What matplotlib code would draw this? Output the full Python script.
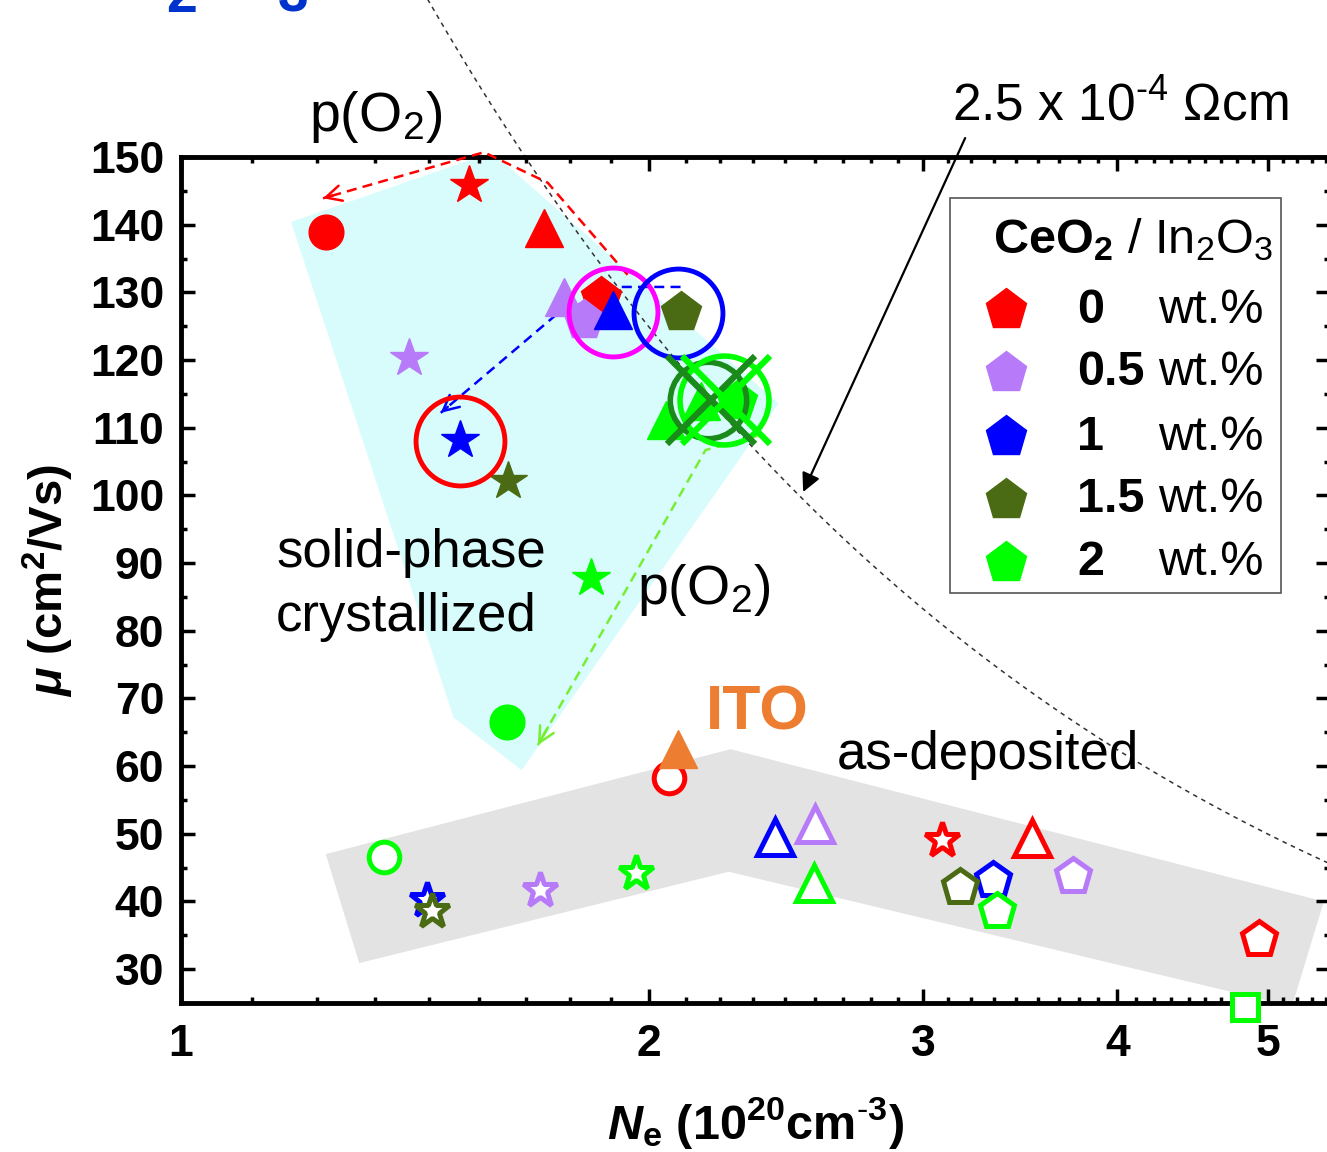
import matplotlib.pyplot as plt
from matplotlib.patches import Polygon, Rectangle
from matplotlib.ticker import FixedLocator, MultipleLocator, NullFormatter
import numpy as np

plt.rcParams['font.family'] = 'Liberation Sans'
plt.rcParams['mathtext.fontset'] = 'custom'
plt.rcParams['mathtext.rm'] = 'Liberation Sans'
plt.rcParams['mathtext.it'] = 'Liberation Sans:italic:bold'
plt.rcParams['mathtext.bf'] = 'Liberation Sans:bold'
plt.rcParams['mathtext.default'] = 'rm'

# CeO2 content of the In2O3 targets and their colours
conc = ['0', '0.5', '1', '1.5', '2']
colors = ['#ff0000', '#b77bf9', '#0000ff', '#4a6b14', '#00ff00']

# solid-phase crystallized films (filled symbols), Ne in 1e20 cm^-3, mu in cm2/Vs
spc_ne = [[1.239, 1.531, 1.711, 1.861],
          [1.401, 1.762, 1.815],
          [1.511, 1.897],
          [2.095, 1.622],
          [1.836, 1.620, 2.051, 2.158, 2.279]]
spc_mu = [[138.9, 145.9, 139.5, 129.3],
          [120.3, 129.3, 125.9],
          [108.2, 127.4],
          [127.1, 102.1],
          [87.8, 66.5, 111.1, 114.0, 114.0]]
spc_mk = [['o', '*', '^', 'p'],
          ['*', '^', 'p'],
          ['*', '^'],
          ['p', '*'],
          ['*', 'o', '^', '^', 'p']]

# as-deposited films (open symbols)
ad_ne = [[2.059, 3.087, 3.525, 4.936],
         [1.701, 2.557, 3.746],
         [1.440, 2.408, 3.327],
         [1.451, 3.167],
         [1.351, 1.960, 2.551, 3.348, 4.831]]
ad_mu = [[58.3, 49.1, 49.4, 34.5],
         [41.7, 51.5, 43.7],
         [40.2, 49.5, 43.2],
         [38.6, 42.2],
         [46.6, 44.2, 42.7, 38.6, 24.4]]
ad_mk = [['o', '*', '^', 'p'],
         ['*', '^', 'p'],
         ['*', '^', 'p'],
         ['*', 'p'],
         ['o', '*', '^', 'p', 's']]

# ITO reference
ito_ne = [2.088]
ito_mu = [62.6]

# highlighted points (rings) and crossed-out points
ring_ne = [1.897, 2.086, 1.511]
ring_mu = [127.1, 126.9, 108.0]
ring_col = ['#ff00ff', '#0000ff', '#ff0000']
cross_ne = [2.181, 2.233]
cross_x_ne = [2.192, 2.240]
cross_mu = [114.1, 114.1]
cross_col = ['#1a8a1a', '#00ff00']

# shaded regions
spc_reg_ne = [1.177, 1.536, 1.605, 2.422, 1.656, 1.497]
spc_reg_mu = [140.4, 149.6, 149.6, 113.6, 59.4, 67.2]
ad_reg_ne = [1.239, 2.256, 5.43, 5.18, 2.250, 1.302]
ad_reg_mu = [47.0, 62.5, 40.0, 24.5, 44.4, 30.9]

# p(O2) arrows
arrows = [([1.937, 1.721, 1.566, 1.234], [132.6, 146.2, 150.7, 143.9], '#ff0000'),
          ([2.095, 1.917, 1.747, 1.469], [130.8, 130.8, 126.9, 112.2], '#0000ff'),
          ([2.348, 2.174, 1.696], [108.8, 106.7, 63.1], '#77ee33')]

# constant resistivity line
rho = 2.5e-4
q = 1.602e-19

fig = plt.figure(figsize=(13.27, 11.52), dpi=100)
ax = fig.add_axes([181 / 1327, 1 - 1003 / 1152, 1149 / 1327, 846 / 1152])
ax.set_xscale('log')
ax.set_xlim(1, 5.48)
ax.set_ylim(25, 150)

ax.add_patch(Polygon(np.column_stack([spc_reg_ne, spc_reg_mu]), closed=True,
                     facecolor='#d8fcfc', edgecolor='none', zorder=0.5))
ax.add_patch(Polygon(np.column_stack([ad_reg_ne, ad_reg_mu]), closed=True,
                     facecolor='#e3e3e3', edgecolor='none', zorder=0.5))

ne_line = np.geomspace(1.44, 5.6, 200)
mu_line = 1 / (q * ne_line * 1e20 * rho)
ax.plot(ne_line, mu_line, color='#333333', lw=1.1, ls=(0, (3, 3)), clip_on=False, zorder=2)

for xs, ys, c in arrows:
    ax.plot(xs, ys, color=c, lw=1.8, ls=(0, (4, 2.5)), clip_on=False, zorder=3)
    lx = np.log10(xs)
    xt = 10 ** (lx[-1] + 0.06 * (lx[-2] - lx[-1]))
    yt = ys[-1] + 0.06 * (ys[-2] - ys[-1])
    ax.annotate('', xy=(xs[-1], ys[-1]), xytext=(xt, yt), annotation_clip=False,
                arrowprops=dict(arrowstyle='->', color=c, lw=1.8, mutation_scale=28,
                                shrinkA=0, shrinkB=0), zorder=3)

msize = {'o': 25, '*': 29, '^': 28, 'p': 30, 's': 19}
osize = {'o': 22, '*': 26, '^': 26, 'p': 26, 's': 19}

for i, c in enumerate(colors):
    for x, y, m in zip(ad_ne[i], ad_mu[i], ad_mk[i]):
        ax.plot([x], [y], marker=m, ms=osize[m], mfc='white', mec=c, mew=3.6,
                ls='none', clip_on=False, zorder=4)
for i, c in enumerate(colors):
    for x, y, m in zip(spc_ne[i], spc_mu[i], spc_mk[i]):
        ax.plot([x], [y], marker=m, ms=msize[m], color=c, mec=c, mew=1,
                ls='none', zorder=4)

ax.plot(ito_ne, ito_mu, marker='^', ms=28, color='#ed7d31', ls='none', zorder=4)

for x, y, c in zip(ring_ne, ring_mu, ring_col):
    ax.plot([x], [y], marker='o', ms=64, mfc='none', mec=c, mew=3.5, ls='none', zorder=5)
for x, y, c, s in zip(cross_ne, cross_mu, cross_col, [55, 64]):
    ax.plot([x], [y], marker='o', ms=s, mfc='none', mec=c, mew=4, ls='none', zorder=5)
for xx, y, c in zip(cross_x_ne, cross_mu, cross_col):
    ax.plot([xx], [y], marker='x', ms=64, mec=c, mew=4.5, ls='none', zorder=6)

# resistivity label and arrow
ax.annotate('', xy=(2.512, 100.5), xytext=(3.193, 152.8), annotation_clip=False,
            arrowprops=dict(arrowstyle='-|>', color='black', lw=1.6, mutation_scale=28,
                            shrinkA=0, shrinkB=0), zorder=6)
ax.text(3.132, 157.4, r'2.5 x 10$^{\text{-}4}$ Ωcm', fontsize=37, va='center', ha='left')

ax.text(1.334, 155.9, r'p(O$_2$)', fontsize=40, va='center', ha='center')
ax.text(2.168, 86.0, r'p(O$_2$)', fontsize=40, va='center', ha='center')
ax.text(1.151, 91.5, 'solid-phase', fontsize=38, va='center', ha='left')
ax.text(1.151, 82.0, 'crystallized', fontsize=38, va='center', ha='left')
ax.text(2.642, 61.6, 'as-deposited', fontsize=38, va='center', ha='left', zorder=6)
ax.text(2.174, 67.8, 'ITO', fontsize=45, fontweight='bold', color='#ed7d31',
        va='center', ha='left')

# legend drawn by hand
ax.add_patch(Rectangle((0.6693, 0.4846), 0.2881, 0.4669, transform=ax.transAxes,
                       facecolor='white', edgecolor='#555555', lw=1.2, zorder=20))
ax.text(0.7067, 0.9019, r'$\mathbf{CeO_2}$ / In$_2$O$_3$', transform=ax.transAxes,
        fontsize=35, va='center', ha='left', zorder=21)
rows_y = [0.8191, 0.7447, 0.6690, 0.5946, 0.5201]
for c, lab, ry in zip(colors, conc, rows_y):
    ax.plot([0.718], [ry], marker='p', ms=31, color=c, ls='none',
            transform=ax.transAxes, clip_on=False, zorder=21)
    ax.text(0.780, ry, lab, transform=ax.transAxes, fontsize=35, fontweight='bold',
            va='center', ha='left', zorder=21)
    ax.text(0.850, ry, 'wt.%', transform=ax.transAxes, fontsize=35,
            va='center', ha='left', zorder=21)

# axes and ticks
ax.xaxis.set_major_locator(FixedLocator([1, 2, 3, 4, 5]))
ax.set_xticklabels(['1', '2', '3', '4', '5'])
minor_x = [n + k / 9 for n in range(1, 6) for k in range(1, 9)]
ax.xaxis.set_minor_locator(FixedLocator(minor_x))
ax.xaxis.set_minor_formatter(NullFormatter())
ax.yaxis.set_major_locator(FixedLocator(list(range(30, 151, 10))))
ax.yaxis.set_minor_locator(MultipleLocator(5))

ax.tick_params(which='both', direction='in', top=True, right=True, width=2.5,
               labelsize=32, pad=12)
ax.tick_params(axis='x', pad=15)
ax.tick_params(which='major', length=10)
ax.tick_params(which='minor', length=4.5)
for lbl in ax.get_xticklabels() + ax.get_yticklabels():
    lbl.set_fontweight('bold')
for sp in ax.spines.values():
    sp.set_linewidth(3.5)

ax.set_xlabel(r'$\mathit{N}_\mathbf{e}$ (10$^\mathbf{20}$cm$^{\mathbf{\text{-}3}}$)',
              fontsize=35, fontweight='bold', labelpad=22)
ax.set_ylabel(r'$\mathit{\mu}$ (cm$^\mathbf{2}$/Vs)', fontsize=34, fontweight='bold',
              labelpad=10)

# cropped heading remains at the top edge
fig.text(182 / 1327, 1 - 12 / 1152, '2', color='#0033cc', fontsize=40,
         fontweight='bold', ha='center', va='baseline')
fig.text(293 / 1327, 1 - 12 / 1152, '3', color='#0033cc', fontsize=40,
         fontweight='bold', ha='center', va='baseline')

fig.savefig('out.png', dpi=100)
